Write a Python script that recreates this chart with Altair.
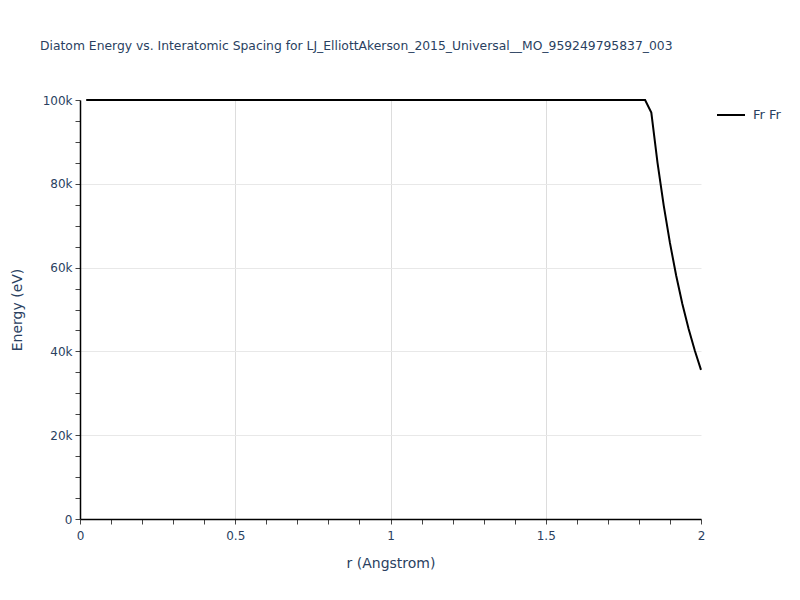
import altair as alt
import pandas as pd

r_vals = [0.02, 1.82, 1.84, 1.86, 1.88, 1.90, 1.92, 1.94, 1.96, 1.98, 2.00]
energy_vals = [100000, 100000, 97000, 85000, 74800, 65900, 58100, 51300, 45400, 40200, 35600]
pair_name = "Fr Fr"

x_ticks = [round(i * 0.1, 1) for i in range(21)]
y_ticks = [i * 5000 for i in range(21)]

df = pd.DataFrame({"r": r_vals, "energy": energy_vals, "pair": [pair_name] * len(r_vals)})

text_color = "#2a3f5f"
font = "DejaVu Sans"

x_major = "abs(datum.value*2 - round(datum.value*2)) < 1e-6"
x_grid = x_major + " && datum.value > 0.01 && datum.value < 1.99"
y_major = "abs(datum.value/20000 - round(datum.value/20000)) < 1e-6"
y_grid = y_major + " && datum.value > 1 && datum.value < 99999"

chart = alt.Chart(df).mark_line(strokeWidth=2).encode(
    x=alt.X(
        "r:Q",
        scale=alt.Scale(domain=[0, 2], nice=False, zero=False),
        axis=alt.Axis(
            title="r (Angstrom)",
            values=x_ticks,
            labelExpr=x_major + " ? format(datum.value, '~g') : ''",
            labelOverlap=False,
            labelFlush=False,
            grid=True,
            gridColor="#dddddd",
            gridOpacity={"condition": {"test": x_grid, "value": 1}, "value": 0},
            tickSize=5,
            tickColor="#444444",
            domainColor="#000000",
            domainWidth=1.5,
            labelColor=text_color,
            labelFont=font,
            labelFontSize=12,
            labelPadding=6,
            titleColor=text_color,
            titleFont=font,
            titleFontSize=14,
            titleFontWeight="normal",
            titlePadding=15,
        ),
    ),
    y=alt.Y(
        "energy:Q",
        scale=alt.Scale(domain=[0, 100000], nice=False),
        axis=alt.Axis(
            title="Energy (eV)",
            values=y_ticks,
            labelExpr=y_major + " ? (datum.value == 0 ? '0' : format(datum.value/1000, '~g') + 'k') : ''",
            labelOverlap=False,
            labelFlush=False,
            grid=True,
            gridColor="#e8e8e8",
            gridOpacity={"condition": {"test": y_grid, "value": 1}, "value": 0},
            tickSize=5,
            tickColor="#444444",
            domainColor="#000000",
            domainWidth=1.5,
            labelColor=text_color,
            labelFont=font,
            labelFontSize=12,
            labelPadding=3,
            titleColor=text_color,
            titleFont=font,
            titleFontSize=14,
            titleFontWeight="normal",
            titlePadding=18,
        ),
    ),
    color=alt.Color(
        "pair:N",
        scale=alt.Scale(range=["#000000"]),
        legend=alt.Legend(
            title=None,
            orient="none",
            legendX=636,
            legendY=0,
            symbolType="stroke",
            symbolSize=784,
            symbolStrokeWidth=2,
            labelColor=text_color,
            labelFont=font,
            labelFontSize=13,
            labelOffset=7,
        ),
    ),
).properties(
    width=621,
    height=419,
    autosize=alt.AutoSizeParams(type="none"),
    padding={"left": 72, "top": 92, "right": 91, "bottom": 73},
    title=alt.TitleParams(
        "Diatom Energy vs. Interatomic Spacing for LJ_ElliottAkerson_2015_Universal__MO_959249795837_003",
        anchor="start",
        frame="group",
        dx=-40,
        offset=42,
        color=text_color,
        font=font,
        fontSize=12.35,
        fontWeight="normal",
    ),
).configure_view(stroke=None)

chart.save("out.html", embed_options={"renderer": "svg", "actions": False})
